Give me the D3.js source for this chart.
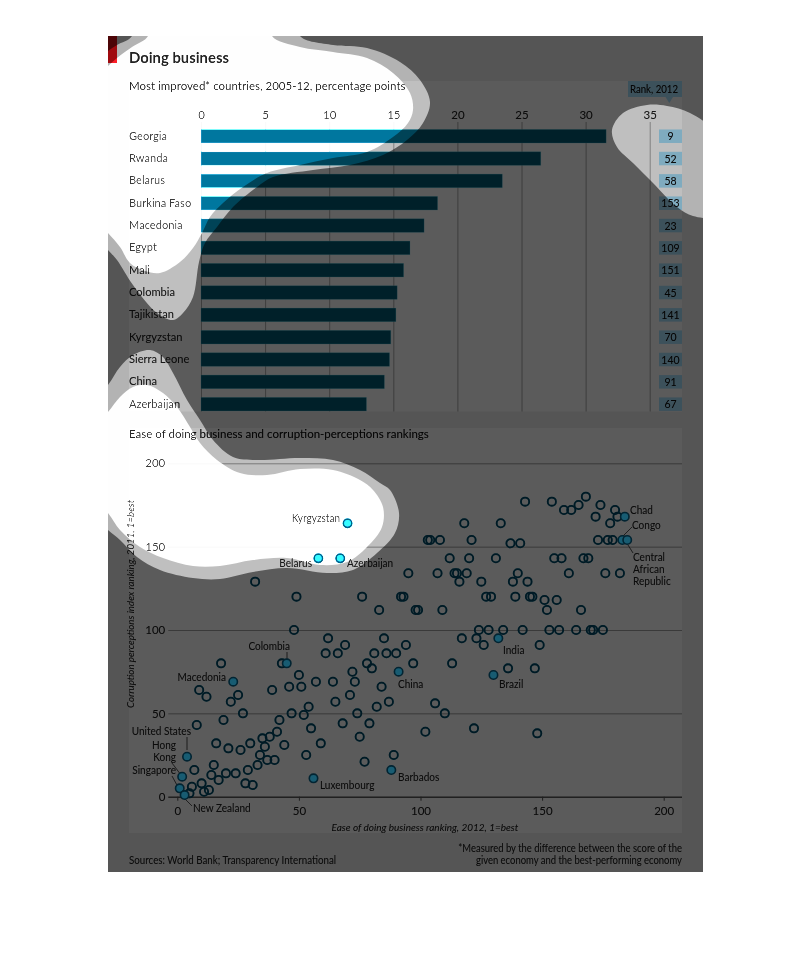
<!DOCTYPE html>
<html>
<head>
<meta charset="utf-8">
<script src="https://cdn.jsdelivr.net/npm/d3@7/dist/d3.min.js"></script>
<style>
html,body{margin:0;padding:0;background:#fff}
svg{display:block}
text{font-family:Lato,"Noto Sans",sans-serif;fill:#3a3a3a}
</style>
</head>
<body>
<svg id="root" width="810" height="966"></svg>
<script>
// ---------- bar chart data ----------
const countries=["Georgia","Rwanda","Belarus","Burkina Faso","Macedonia","Egypt","Mali","Colombia","Tajikistan","Kyrgyzstan","Sierra Leone","China","Azerbaijan"];
const improvement=[31.6,26.5,23.5,18.45,17.4,16.3,15.8,15.3,15.2,14.8,14.7,14.3,12.9];
const rank2012=[9,52,58,153,23,109,151,45,141,70,140,91,67];
const barTicks=[0,5,10,15,20,25,30,35];

// ---------- scatter data ----------
const plainBiz=[32,49,76,92,93,95,83,98,99,48,62,85,69,94,61,66,81,86,90,43,18,78,97,50,72,80,9,39,46,51,57,64,73,84,12,25,22,71,65,54,47,52,27,42,19,87,82,74,68,79,8,55,41,38,35,75,16,30,44,59,36,21,26,34,53,89,37,40,77,15,33,7,29,20,24,14,17,10,28,31,6,13,11,5,
143,154,159,162,165,168,174,180,172,181,178,118,133,103,104,108,121,137,141,173,177,179,112,120,131,155,158,167,169,107,114,115,119,116,125,140,138,144,161,176,182,127,129,139,145,146,151,156,152,166,109,124,128,134,142,153,157,164,170,171,175,117,123,126,149,113,136,147,106,110,102,122,148];
const plainCpi=[129,120,120,120,120,134,112,112,112,100,95,95,91,91,86,86,86,86,86,80,80,80,80,73,75,77,64,64,66,66,69,69,69,66,60,61,57,61,57,54,50,49,50,46,46,57,54,50,44,44,43,41,39,36,35,36,32,32,31,32,30,29,28,25,25,25,22,22,21,19,19,16,16,14,14,13,10,8,8,7,6,4,3,2,
177,177,172,172,175,180,175,172,168,168,164,164,164,154,154,154,154,152,152,154,154,154,143,143,143,143,143,143,143,134,134,134,134,129,129,134,129,129,134,134,134,120,120,120,120,120,118,118,112,112,112,100,100,100,100,100,100,100,100,100,100,95,95,91,91,80,77,77,56,50,39,41,38];
const improvedNames=["Kyrgyzstan","Belarus","Azerbaijan"];
const improvedBiz=[70,58,67];
const improvedCpi=[164,143,143];
const namedCountries=["Colombia","China","Macedonia","United States","Barbados","Hong Kong","Luxembourg","Singapore","New Zealand","Chad","Congo","Central African Republic","India","Brazil"];
const namedBiz=[45,91,23,4,88,2,56,1,3,184,183,185,132,130];
const namedCpi=[80,75,69,24,16,12,11,5,1,168,154,154,95,73];
const scatterXTicks=[0,50,100,150,200];
const scatterYTicks=[0,50,100,150,200];

// ---------- decoration: the masked blob outline (not data) ----------
const holeTop=[[148,36],[148,15],[272,15],[272,36],[300,47],[333,52],[367,58],[393,73],[410,93],[413,110],[408,123],[393,137],[367,152],[333,158],[300,165],[267,173],[243,187],[223,203],[210,217],[202,233],[193,248],[180,262],[160,273],[145,271],[130,263],[120,247],[108,233],[85,210],[85,85],[108,66],[117,58],[132,47]];
const outerTop=[[132,36],[132,15],[300,15],[300,36],[333,45],[367,48],[400,62],[420,80],[430,102],[423,123],[407,140],[383,155],[350,165],[313,170],[273,177],[257,187],[233,207],[217,227],[205,243],[199,262],[193,297],[183,313],[173,320],[157,313],[133,285],[117,260],[108,250],[85,225],[85,70],[108,51],[117,45]];
const holeLow=[[108,412],[120,397],[133,387],[147,385],[163,393],[177,407],[190,427],[200,443],[217,460],[240,473],[267,475],[300,469],[333,470],[360,480],[373,490],[383,507],[382,527],[367,547],[347,562],[320,565],[287,558],[253,560],[220,566],[193,566],[163,558],[140,547],[120,530],[108,513],[85,490],[85,435]];
const outerLow=[[108,385],[120,367],[133,355],[150,350],[163,357],[173,373],[187,400],[200,420],[213,440],[233,457],[257,460],[300,458],[333,460],[360,470],[380,483],[390,490],[399,513],[395,533],[377,553],[353,570],[327,573],[287,568],[253,572],[220,579],[193,578],[160,570],[137,557],[120,540],[108,530],[85,510],[85,410]];
const outerRight=[[667,106],[647,105],[623,113],[612,130],[617,147],[633,163],[653,183],[677,207],[693,216],[712,216],[725,180],[712,130],[690,113]];

const svg=d3.select("#root");
const defs=svg.append("defs");
const blob=d3.line().curve(d3.curveCatmullRomClosed.alpha(0.5));
const page="M0,0H810V966H0Z";

function clip(id,d,rule){
  const c=defs.append("clipPath").attr("id",id);
  const p=c.append("path").attr("d",d);
  if(rule) p.attr("clip-rule",rule);
}
clip("figureClip","M108,36H703V872H108Z");
clip("ringClip",page+blob(holeTop)+blob(holeLow),"evenodd");
clip("darkClip",page+blob(outerTop)+blob(outerLow)+blob(outerRight),"evenodd");

function gammaFilter(id,amp,exp){
  const f=defs.append("filter").attr("id",id).attr("filterUnits","userSpaceOnUse")
    .attr("x",0).attr("y",0).attr("width",810).attr("height",966)
    .attr("color-interpolation-filters","sRGB");
  const t=f.append("feComponentTransfer");
  ["feFuncR","feFuncG","feFuncB"].forEach(n=>t.append(n).attr("type","gamma").attr("amplitude",amp).attr("exponent",exp).attr("offset",0));
}
gammaFilter("fDark",0.357,1.37);
gammaFilter("fRing",0.75,1.37);
const hf=defs.append("filter").attr("id","fHole").attr("filterUnits","userSpaceOnUse")
  .attr("x",0).attr("y",0).attr("width",810).attr("height",966)
  .attr("color-interpolation-filters","sRGB");
const ht=hf.append("feComponentTransfer");
["feFuncR","feFuncG","feFuncB"].forEach(n=>ht.append(n).attr("type","table").attr("tableValues","0 0.25 0.5 0.98 1"));

const clearLayer=svg.append("g").attr("clip-path","url(#figureClip)").append("g").attr("filter","url(#fHole)");
const chart=clearLayer.append("g").attr("id","chart");

// narrows a text to the reference's condensed face
function condense(sel,f){
  sel.each(function(){
    const len=this.getComputedTextLength();
    d3.select(this).attr("textLength",(len*f).toFixed(1)).attr("lengthAdjust","spacingAndGlyphs");
  });
}

// ---------- backgrounds ----------
chart.append("rect").attr("x",108).attr("y",36).attr("width",595).attr("height",836).attr("fill","#f3f3f3");
chart.append("rect").attr("x",129).attr("y",81).attr("width",553).attr("height",330.5).attr("fill","#fff");
chart.append("rect").attr("x",129).attr("y",428).attr("width",553).attr("height",405).attr("fill","#fff");
chart.append("rect").attr("x",108).attr("y",36).attr("width",9).attr("height",27).attr("fill","#e01f28");

const note=(x,y,s,size,opt={})=>{
  const t=chart.append("text").attr("x",x).attr("y",y).attr("font-size",size).text(s);
  if(opt.anchor) t.attr("text-anchor",opt.anchor);
  if(opt.weight) t.attr("font-weight",opt.weight);
  if(opt.italic) t.attr("font-style","italic");
  if(opt.fill) t.style("fill",opt.fill);
  if(opt.rotate!==undefined) t.attr("transform",`rotate(${opt.rotate} ${x} ${y})`);
  if(opt.narrow) condense(t,opt.narrow);
  return t;
};
note(129,63,"Doing business",15.5,{weight:700,fill:"#222",narrow:0.96});
note(129,90,"Most improved* countries, 2005-12, percentage points",11.5,{fill:"#222"});
note(129,438,"Ease of doing business and corruption-perceptions rankings",11.5,{fill:"#222"});
note(129,864,"Sources: World Bank; Transparency International",10.5,{narrow:0.93});
note(682,852,"*Measured by the difference between the score of the",10.5,{anchor:"end",narrow:0.9});
note(682,864,"given economy and the best-performing economy",10.5,{anchor:"end",narrow:0.9});

// ---------- bars ----------
const xBar=d3.scaleLinear().domain([0,35]).range([201,649.7]);
const yBar=d3.scaleBand().domain(countries).range([125.05,415.35]).paddingInner(0.395).paddingOuter(0.1975);
const barAxis=chart.append("g").attr("transform","translate(0,122)")
  .call(d3.axisTop(xBar).tickValues(barTicks).tickSize(-289.5).tickPadding(3));
barAxis.select(".domain").remove();
barAxis.selectAll("line").attr("stroke","#c0c0c0").attr("stroke-width",1);
barAxis.selectAll("text").attr("font-size",11.5).attr("font-family",null);

chart.append("g").selectAll("rect").data(countries).join("rect")
  .attr("x",xBar(0)).attr("y",d=>yBar(d))
  .attr("width",(d,i)=>xBar(improvement[i])-xBar(0)).attr("height",yBar.bandwidth())
  .attr("fill","rgb(0,119,144)")
  .attr("stroke","#9fe4f4").attr("stroke-opacity",0.35).attr("stroke-width",0.8);
chart.append("g").selectAll("text").data(countries).join("text")
  .attr("x",129).attr("y",d=>yBar(d)+yBar.bandwidth()/2+3.5).attr("font-size",11.1).text(d=>d);

// ---------- rank column ----------
chart.append("rect").attr("x",628).attr("y",81).attr("width",54).attr("height",16).attr("fill","rgb(190,235,255)");
chart.append("path").attr("d","M665.5,97L673,97L669.3,103Z").attr("fill","rgb(190,235,255)");
note(654,92.5,"Rank, 2012",10.5,{anchor:"middle",fill:"#222",narrow:0.92});
chart.append("g").selectAll("rect").data(countries).join("rect")
  .attr("x",659).attr("width",23).attr("y",d=>yBar(d)).attr("height",yBar.bandwidth())
  .attr("fill","rgb(190,235,255)");
chart.append("g").selectAll("text").data(countries).join("text")
  .attr("x",670.5).attr("y",d=>yBar(d)+yBar.bandwidth()/2+4).attr("text-anchor","middle")
  .attr("font-size",10.5).style("fill","#222").text((d,i)=>rank2012[i]);

// ---------- scatter ----------
const xS=d3.scaleLinear().domain([0,200]).range([177.3,663.7]);
const yS=d3.scaleLinear().domain([0,200]).range([796.7,463.3]);
const yAxis=chart.append("g").attr("transform",`translate(${xS(0)},0)`)
  .call(d3.axisLeft(yS).tickValues(scatterYTicks).tickSize(9).tickPadding(3));
yAxis.select(".domain").remove();
yAxis.selectAll("line").attr("x1",-9).attr("x2",682-xS(0)).attr("stroke","#b8b8b8").attr("stroke-width",1);
yAxis.selectAll("text").attr("font-size",11.5).attr("font-family",null);
yAxis.selectAll(".tick").filter(d=>d===0).select("line").attr("stroke","#777").attr("stroke-width",1.6);
const xAxis=chart.append("g").attr("transform",`translate(0,${yS(0)})`)
  .call(d3.axisBottom(xS).tickValues(scatterXTicks).tickSize(4).tickPadding(6));
xAxis.select(".domain").remove();
xAxis.selectAll("line").attr("stroke","#777");
xAxis.selectAll("text").attr("font-size",11.5).attr("font-family",null);

note(134,708,"Corruption perceptions index ranking, 2011, 1=best",10,{italic:true,rotate:-90,narrow:0.97});
note(425,831,"Ease of doing business ranking, 2012, 1=best",10,{italic:true,anchor:"middle"});

const plain=plainBiz.map((b,i)=>[b,plainCpi[i]]);
chart.append("g").selectAll("circle").data(plain).join("circle")
  .attr("cx",d=>xS(d[0])).attr("cy",d=>yS(d[1])).attr("r",4.1)
  .attr("fill","none").attr("stroke","rgb(0,100,130)").attr("stroke-width",1.8);
chart.append("g").selectAll("circle").data(improvedNames).join("circle")
  .attr("cx",(d,i)=>xS(improvedBiz[i])).attr("cy",(d,i)=>yS(improvedCpi[i])).attr("r",4.2)
  .attr("fill","rgb(55,224,255)").attr("stroke","rgb(0,100,130)").attr("stroke-width",1.8);

// annotations (label placement, not data)
const labels=[["Kyrgyzstan",340,522,"end"],["Belarus",312,567,"end"],["Azerbaijan",347,567,"start"],["Colombia",290,650,"end"],["Macedonia",226,681,"end"],["United States",191,735,"end"],["Hong",176,748.5,"end"],["Kong",176,761,"end"],["Singapore",176,774,"end"],["New Zealand",193,811.5,"start"],["Luxembourg",320,789,"start"],["Barbados",398,781,"start"],["China",398,688,"start"],["India",503,654,"start"],["Brazil",499,688,"start"],["Chad",630,514,"start"],["Congo",632,529,"start"],["Central",633,561,"start"],["African",633,573,"start"],["Republic",633,585,"start"]];
chart.append("g").selectAll("text").data(labels).join("text")
  .attr("x",d=>d[1]).attr("y",d=>d[2]).attr("text-anchor",d=>d[3]).attr("font-size",10.8).text(d=>d[0])
  .call(condense,0.93);
const leaders=[[287,652,287,660],[187,737,187,750],[172,763,181,775],[172,776,178,787],[184,798,192,806],[632,527,621,538],[628,545,633,553]];
chart.append("g").selectAll("line").data(leaders).join("line")
  .attr("x1",d=>d[0]).attr("y1",d=>d[1]).attr("x2",d=>d[2]).attr("y2",d=>d[3])
  .attr("stroke","#555").attr("stroke-width",0.8);

// ---------- shaded copies of the chart ----------
const shaded=svg.append("g").attr("clip-path","url(#figureClip)");
shaded.append("g").attr("clip-path","url(#ringClip)").append("use").attr("href","#chart").attr("filter","url(#fRing)");
shaded.append("g").attr("clip-path","url(#darkClip)").append("use").attr("href","#chart").attr("filter","url(#fDark)");

// named countries sit on top of the shading
svg.append("g").selectAll("circle").data(namedCountries).join("circle")
  .attr("cx",(d,i)=>xS(namedBiz[i])).attr("cy",(d,i)=>yS(namedCpi[i])).attr("r",4.2)
  .attr("fill","rgb(24,92,114)").attr("stroke","rgb(2,36,50)").attr("stroke-width",1.6);
</script>
</body>
</html>
